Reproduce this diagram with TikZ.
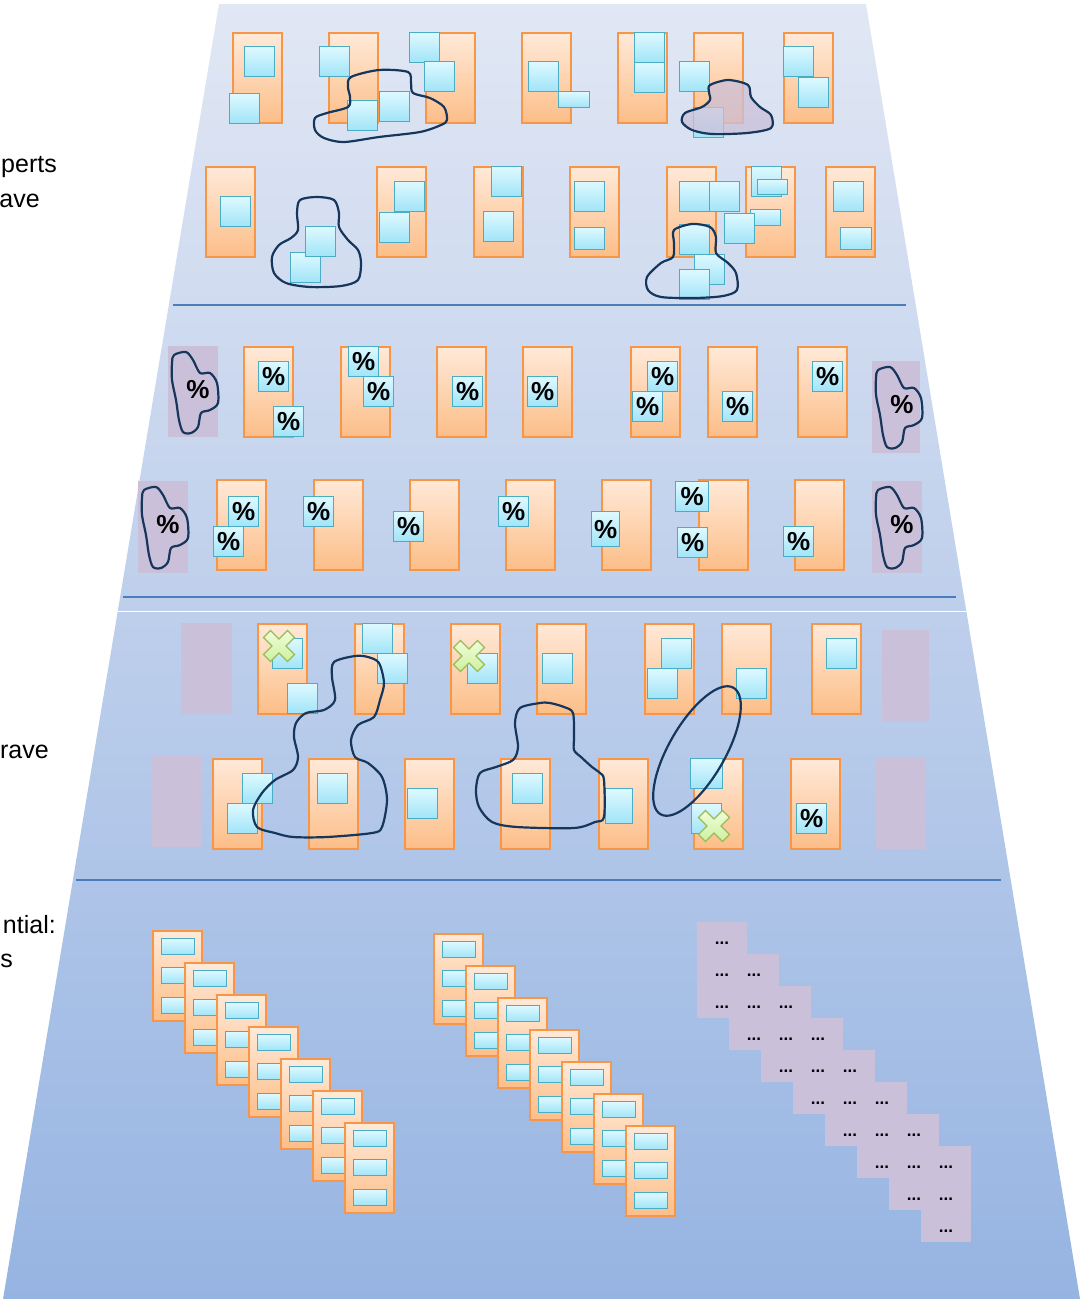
\documentclass[tikz,border=0pt]{standalone}
\usepackage{fontspec}
\setmainfont{Liberation Sans}
\definecolor{srvline}{RGB}{247,150,70}
\definecolor{srvtop}{RGB}{255,233,216}
\definecolor{srvbot}{RGB}{252,190,136}
\definecolor{sqline}{RGB}{75,172,198}
\definecolor{sqtop}{RGB}{222,249,255}
\definecolor{sqbot}{RGB}{160,228,248}
\definecolor{holdc}{RGB}{203,192,217}
\definecolor{blobc}{RGB}{22,54,92}
\definecolor{xline}{RGB}{155,187,89}
\definecolor{xtop}{RGB}{240,253,218}
\definecolor{xbot}{RGB}{205,240,160}
\definecolor{bgtop}{RGB}{225,231,244}
\definecolor{bgbot}{RGB}{150,180,226}
\definecolor{rulec}{RGB}{74,126,187}
\begin{document}
\begin{tikzpicture}[x=1pt, y=-1pt,
  srv/.style={draw=srvline, line width=2pt, top color=srvtop, bottom color=srvbot, minimum width=49pt, minimum height=90pt, inner sep=0pt, anchor=north west},
  sq/.style={draw=sqline, line width=1.4pt, top color=sqtop, bottom color=sqbot, minimum width=30pt, minimum height=30pt, inner sep=0pt, anchor=north west},
  slot/.style={sq, minimum width=33pt, minimum height=16pt},
  pcttext/.style={font=\fontsize{26}{26}\selectfont\bfseries, inner sep=0pt},
  pct/.style={sq, pcttext},
  hold/.style={fill=holdc, minimum width=50pt, minimum height=91pt, inner sep=0pt, anchor=north west},
  blob/.style={draw=blobc, line width=2.2pt, line join=round},
  dots/.style={font=\fontsize{17}{17}\selectfont\bfseries, inner sep=0pt},
  lbl/.style={font=\fontsize{25}{30}\selectfont, anchor=base east, inner sep=0pt},
  rulel/.style={draw=rulec, line width=2pt},
  xmk/.style={draw=xline, line width=1.2pt, top color=xtop, bottom color=xbot},
  pctblob/.pic={
    \draw[blob] plot[smooth cycle] coordinates {(6,9) (18,6) (25,14) (32,27) (42,27) (49,37) (50,57) (42,64) (33,67) (30,81) (23,87) (15,86) (11,74) (8,54) (4,34) (4,17)};
    \node[pcttext] (-t) at (30,44) {\%};
  },
  xmark/.pic={
    \path[xmk, rotate=45] (5,17) -- (5,5) -- (17,5) -- (17,-5) -- (5,-5) -- (5,-17) -- (-5,-17) -- (-5,-5) -- (-17,-5) -- (-17,5) -- (-5,5) -- (-5,17) -- cycle;
  }]
\useasboundingbox (0,0) rectangle (1080,1299);
% background
\path[top color=bgtop, bottom color=bgbot] (219,4) -- (866,4) -- (1080,1299) -- (3,1299) -- cycle;
\draw[rulel] (173,305) -- (906,305);
\draw[rulel] (123,597) -- (956,597);
\draw[white, line width=1pt] (118,611) -- (966,611);
\draw[rulel] (76,880) -- (1001,880);
% labels
\node[lbl] (t1) at (57,172) {perts};
\node[lbl] (t2) at (40,207) {ave};
\node[lbl] (t3) at (49,758) {rave};
\node[lbl] (t4) at (56,933) {ntial:};
\node[lbl] (t5) at (13,967) {s};
% band 1, row a
\node[srv] (a1) at (232,32) {};
\node[sq] (a1q1) at (244,46) {};
\node[sq] (a1q2) at (229,93) {};
\node[srv] (a2) at (328,32) {};
\node[sq] (a2q1) at (319,46) {};
\node[sq] (a2q2) at (347,100) {};
\node[sq] (a2q3) at (379,91) {};
\node[srv] (a3) at (425,32) {};
\node[sq] (a3q1) at (409,32) {};
\node[sq] (a3q2) at (424,61) {};
\node[srv] (a4) at (521,32) {};
\node[sq] (a4q1) at (528,61) {};
\node[sq, minimum width=31pt, minimum height=16pt] (a4q2) at (558,91) {};
\node[srv] (a5) at (617,32) {};
\node[sq] (a5q1) at (634,32) {};
\node[sq] (a5q2) at (634,62) {};
\node[srv] (a6) at (693,32) {};
\node[sq] (a6q1) at (679,61) {};
\node[sq] (a6q2) at (693,107) {};
\node[srv] (a7) at (783,32) {};
\node[sq] (a7q1) at (783,46) {};
\node[sq] (a7q2) at (798,77) {};
\draw[blob] plot[smooth cycle] coordinates {(351,77) (379,70) (408,72) (411,83) (413,93) (430,98) (444,107) (447,120) (441,125) (420,132) (379,137) (344,142) (324,138) (315,130) (315,118) (327,113) (348,107) (350,97) (348,87)};
\draw[blob, fill=holdc, fill opacity=0.75] plot[smooth cycle] coordinates {(710,85) (728,80) (748,85) (751,97) (760,107) (771,115) (771,128) (747,133) (712,134) (692,130) (682,122) (685,113) (702,107) (710,100) (709,92)};
% band 1, row b
\node[srv] (b1) at (205,166) {};
\node[sq] (b1q1) at (220,196) {};
\node[sq] (bxq1) at (290,252) {};
\node[sq] (bxq2) at (305,226) {};
\node[srv] (b2) at (376,166) {};
\node[sq] (b2q1) at (394,181) {};
\node[sq] (b2q2) at (379,212) {};
\node[srv] (b3) at (473,166) {};
\node[sq] (b3q1) at (491,166) {};
\node[sq] (b3q2) at (483,211) {};
\node[srv] (b4) at (569,166) {};
\node[sq] (b4q1) at (574,181) {};
\node[sq, minimum height=22pt] (b4q2) at (574,227) {};
\node[srv] (b5) at (666,166) {};
\node[sq] (b5q1) at (679,181) {};
\node[sq] (b5q2) at (709,181) {};
\node[sq] (b5q3) at (679,224) {};
\node[sq] (b5q4) at (694,254) {};
\node[sq] (b5q5) at (679,269) {};
\node[srv] (b6) at (745,166) {};
\node[sq] (b6q1) at (751,166) {};
\node[sq, minimum height=15pt] (b6q2) at (757,179) {};
\node[sq, minimum height=16pt] (b6q3) at (750,209) {};
\node[sq] (b6q4) at (724,213) {};
\node[srv] (b7) at (825,166) {};
\node[sq] (b7q1) at (833,181) {};
\node[sq, minimum width=31pt, minimum height=22pt] (b7q2) at (840,227) {};
\draw[blob] plot[smooth cycle] coordinates {(317,197) (334,200) (339,213) (339,227) (348,240) (358,250) (361,263) (358,280) (341,286) (310,287) (286,283) (274,273) (272,257) (279,245) (291,238) (298,230) (297,213) (300,200)};
\draw[blob] plot[smooth cycle] coordinates {(674,230) (692,224) (710,227) (716,237) (716,253) (728,263) (736,273) (737,290) (723,296) (695,298) (661,297) (648,290) (647,277) (661,263) (673,257) (674,243)};
% band 2, row c
\node[hold] (c0) at (168,346) {};
\pic (c0b) at (c0.north west) {pctblob};
\node[srv] (c1) at (243,346) {};
\node[pct] (c1p1) at (258,361) {\%};
\node[pct] (c1p2) at (273,406) {\%};
\node[srv] (c2) at (340,346) {};
\node[pct] (c2p1) at (348,346) {\%};
\node[pct] (c2p2) at (363,376) {\%};
\node[srv] (c3) at (436,346) {};
\node[pct] (c3p1) at (452,376) {\%};
\node[srv] (c4) at (522,346) {};
\node[pct] (c4p1) at (527,376) {\%};
\node[srv] (c5) at (630,346) {};
\node[pct] (c5p1) at (647,361) {\%};
\node[pct] (c5p2) at (632,391) {\%};
\node[srv] (c6) at (707,346) {};
\node[pct] (c6p1) at (722,391) {\%};
\node[srv] (c7) at (797,346) {};
\node[pct] (c7p1) at (812,361) {\%};
\node[hold, minimum width=48pt, minimum height=92pt] (c8) at (872,361) {};
\pic (c8b) at (c8.north west) {pctblob};
% band 2, row d
\node[hold, minimum height=92pt] (d0) at (138,481) {};
\pic (d0b) at (d0.north west) {pctblob};
\node[srv] (d1) at (216,479) {};
\node[pct] (d1p1) at (228,496) {\%};
\node[pct] (d1p2) at (213,526) {\%};
\node[srv] (d2) at (313,479) {};
\node[pct] (d2p1) at (303,496) {\%};
\node[srv] (d3) at (409,479) {};
\node[pct] (d3p1) at (393,511) {\%};
\node[srv] (d4) at (505,479) {};
\node[pct] (d4p1) at (498,496) {\%};
\node[srv] (d5) at (601,479) {};
\node[pct, minimum width=28pt, minimum height=35pt] (d5p1) at (591,511) {\%};
\node[srv] (d6) at (698,479) {};
\node[pct, minimum width=33pt] (d6p1) at (675,481) {\%};
\node[pct] (d6p2) at (677,527) {\%};
\node[srv] (d7) at (794,479) {};
\node[pct] (d7p1) at (783,526) {\%};
\node[hold, minimum height=92pt] (d8) at (872,481) {};
\pic (d8b) at (d8.north west) {pctblob};
% band 3, row e
\node[hold, minimum width=51pt] (e0) at (181,623) {};
\node[srv] (e1) at (257,623) {};
\node[sq] (e1q1) at (272,638) {};
\pic (e1x) at (279,646) {xmark};
\node[sq] (e1q2) at (287,683) {};
\node[srv] (e2) at (354,623) {};
\node[sq] (e2q1) at (362,623) {};
\node[sq] (e2q2) at (377,653) {};
\node[srv] (e3) at (450,623) {};
\node[sq] (e3q1) at (467,653) {};
\pic (e3x) at (469,656) {xmark};
\node[srv] (e4) at (536,623) {};
\node[sq] (e4q1) at (542,653) {};
\node[srv] (e5) at (644,623) {};
\node[sq] (e5q1) at (661,638) {};
\node[sq] (e5q2) at (647,668) {};
\node[srv] (e6) at (721,623) {};
\node[sq] (e6q1) at (736,668) {};
\node[srv] (e7) at (811,623) {};
\node[sq] (e7q1) at (826,638) {};
\node[hold, minimum width=47pt, minimum height=92pt] (e8) at (882,630) {};
% band 3, row f
\node[hold, minimum width=49pt] (f0) at (152,756) {};
\node[srv] (f1) at (212,758) {};
\node[sq] (f1q1) at (242,773) {};
\node[sq] (f1q2) at (227,803) {};
\node[srv] (f2) at (308,758) {};
\node[sq] (f2q1) at (317,773) {};
\node[srv] (f3) at (404,758) {};
\node[sq] (f3q1) at (407,788) {};
\node[srv] (f4) at (500,758) {};
\node[sq] (f4q1) at (512,773) {};
\node[srv] (f5) at (598,758) {};
\node[sq, minimum width=27pt, minimum height=35pt] (f5q1) at (605,788) {};
\node[srv] (f6) at (693,758) {};
\node[sq, minimum width=32pt] (f6q1) at (690,758) {};
\node[sq] (f6q2) at (691,803) {};
\pic (f6x) at (714,826) {xmark};
\node[srv] (f7) at (790,758) {};
\node[pct] (f7p1) at (796,803) {\%};
\node[hold] (f8) at (876,758) {};
\draw[blob] plot[smooth cycle] coordinates {(355,656) (334,662) (332,677) (335,700) (324,710) (306,713) (296,723) (294,737) (298,757) (293,770) (275,780) (262,793) (253,810) (257,827) (275,833) (293,837) (327,837) (372,833) (382,827) (387,800) (382,777) (368,763) (355,757) (351,740) (358,725) (374,717) (380,700) (384,683) (379,663) (368,657)};
\draw[blob] plot[smooth cycle] coordinates {(540,703) (520,708) (515,723) (518,747) (513,760) (496,767) (480,773) (476,790) (479,807) (492,822) (517,827) (574,828) (595,822) (604,817) (604,780) (600,773) (592,767) (581,757) (574,750) (574,737) (573,713) (564,707) (550,703)};
\draw[blob] (697,751) circle[x radius=73, y radius=28, rotate=60];
% band 4
\foreach \k in {0,...,6} {
  \node[srv] (s1c\k) at ({152+32*\k},{930+32*\k}) {};
  \node[slot] (s1c\k-a) at ([shift={(9,8)}]s1c\k.north west) {};
  \node[slot] (s1c\k-b) at ([shift={(9,37)}]s1c\k.north west) {};
  \node[slot] (s1c\k-c) at ([shift={(9,67)}]s1c\k.north west) {};
}
\foreach \k in {0,...,6} {
  \node[srv] (s2c\k) at ({433+32*\k},{933+32*\k}) {};
  \node[slot] (s2c\k-a) at ([shift={(9,8)}]s2c\k.north west) {};
  \node[slot] (s2c\k-b) at ([shift={(9,37)}]s2c\k.north west) {};
  \node[slot] (s2c\k-c) at ([shift={(9,67)}]s2c\k.north west) {};
}
\foreach \k in {0,...,7}
  \node[hold, minimum height=96pt] (dz\k) at ({697+32*\k},{922+32*\k}) {};
\foreach \k in {0,...,7}
  \foreach \j in {0,1,2}
    \node[dots] (dz\k-\j) at ({722+32*\k},{943+32*(\k+\j)}) {...};
\end{tikzpicture}
\end{document}
